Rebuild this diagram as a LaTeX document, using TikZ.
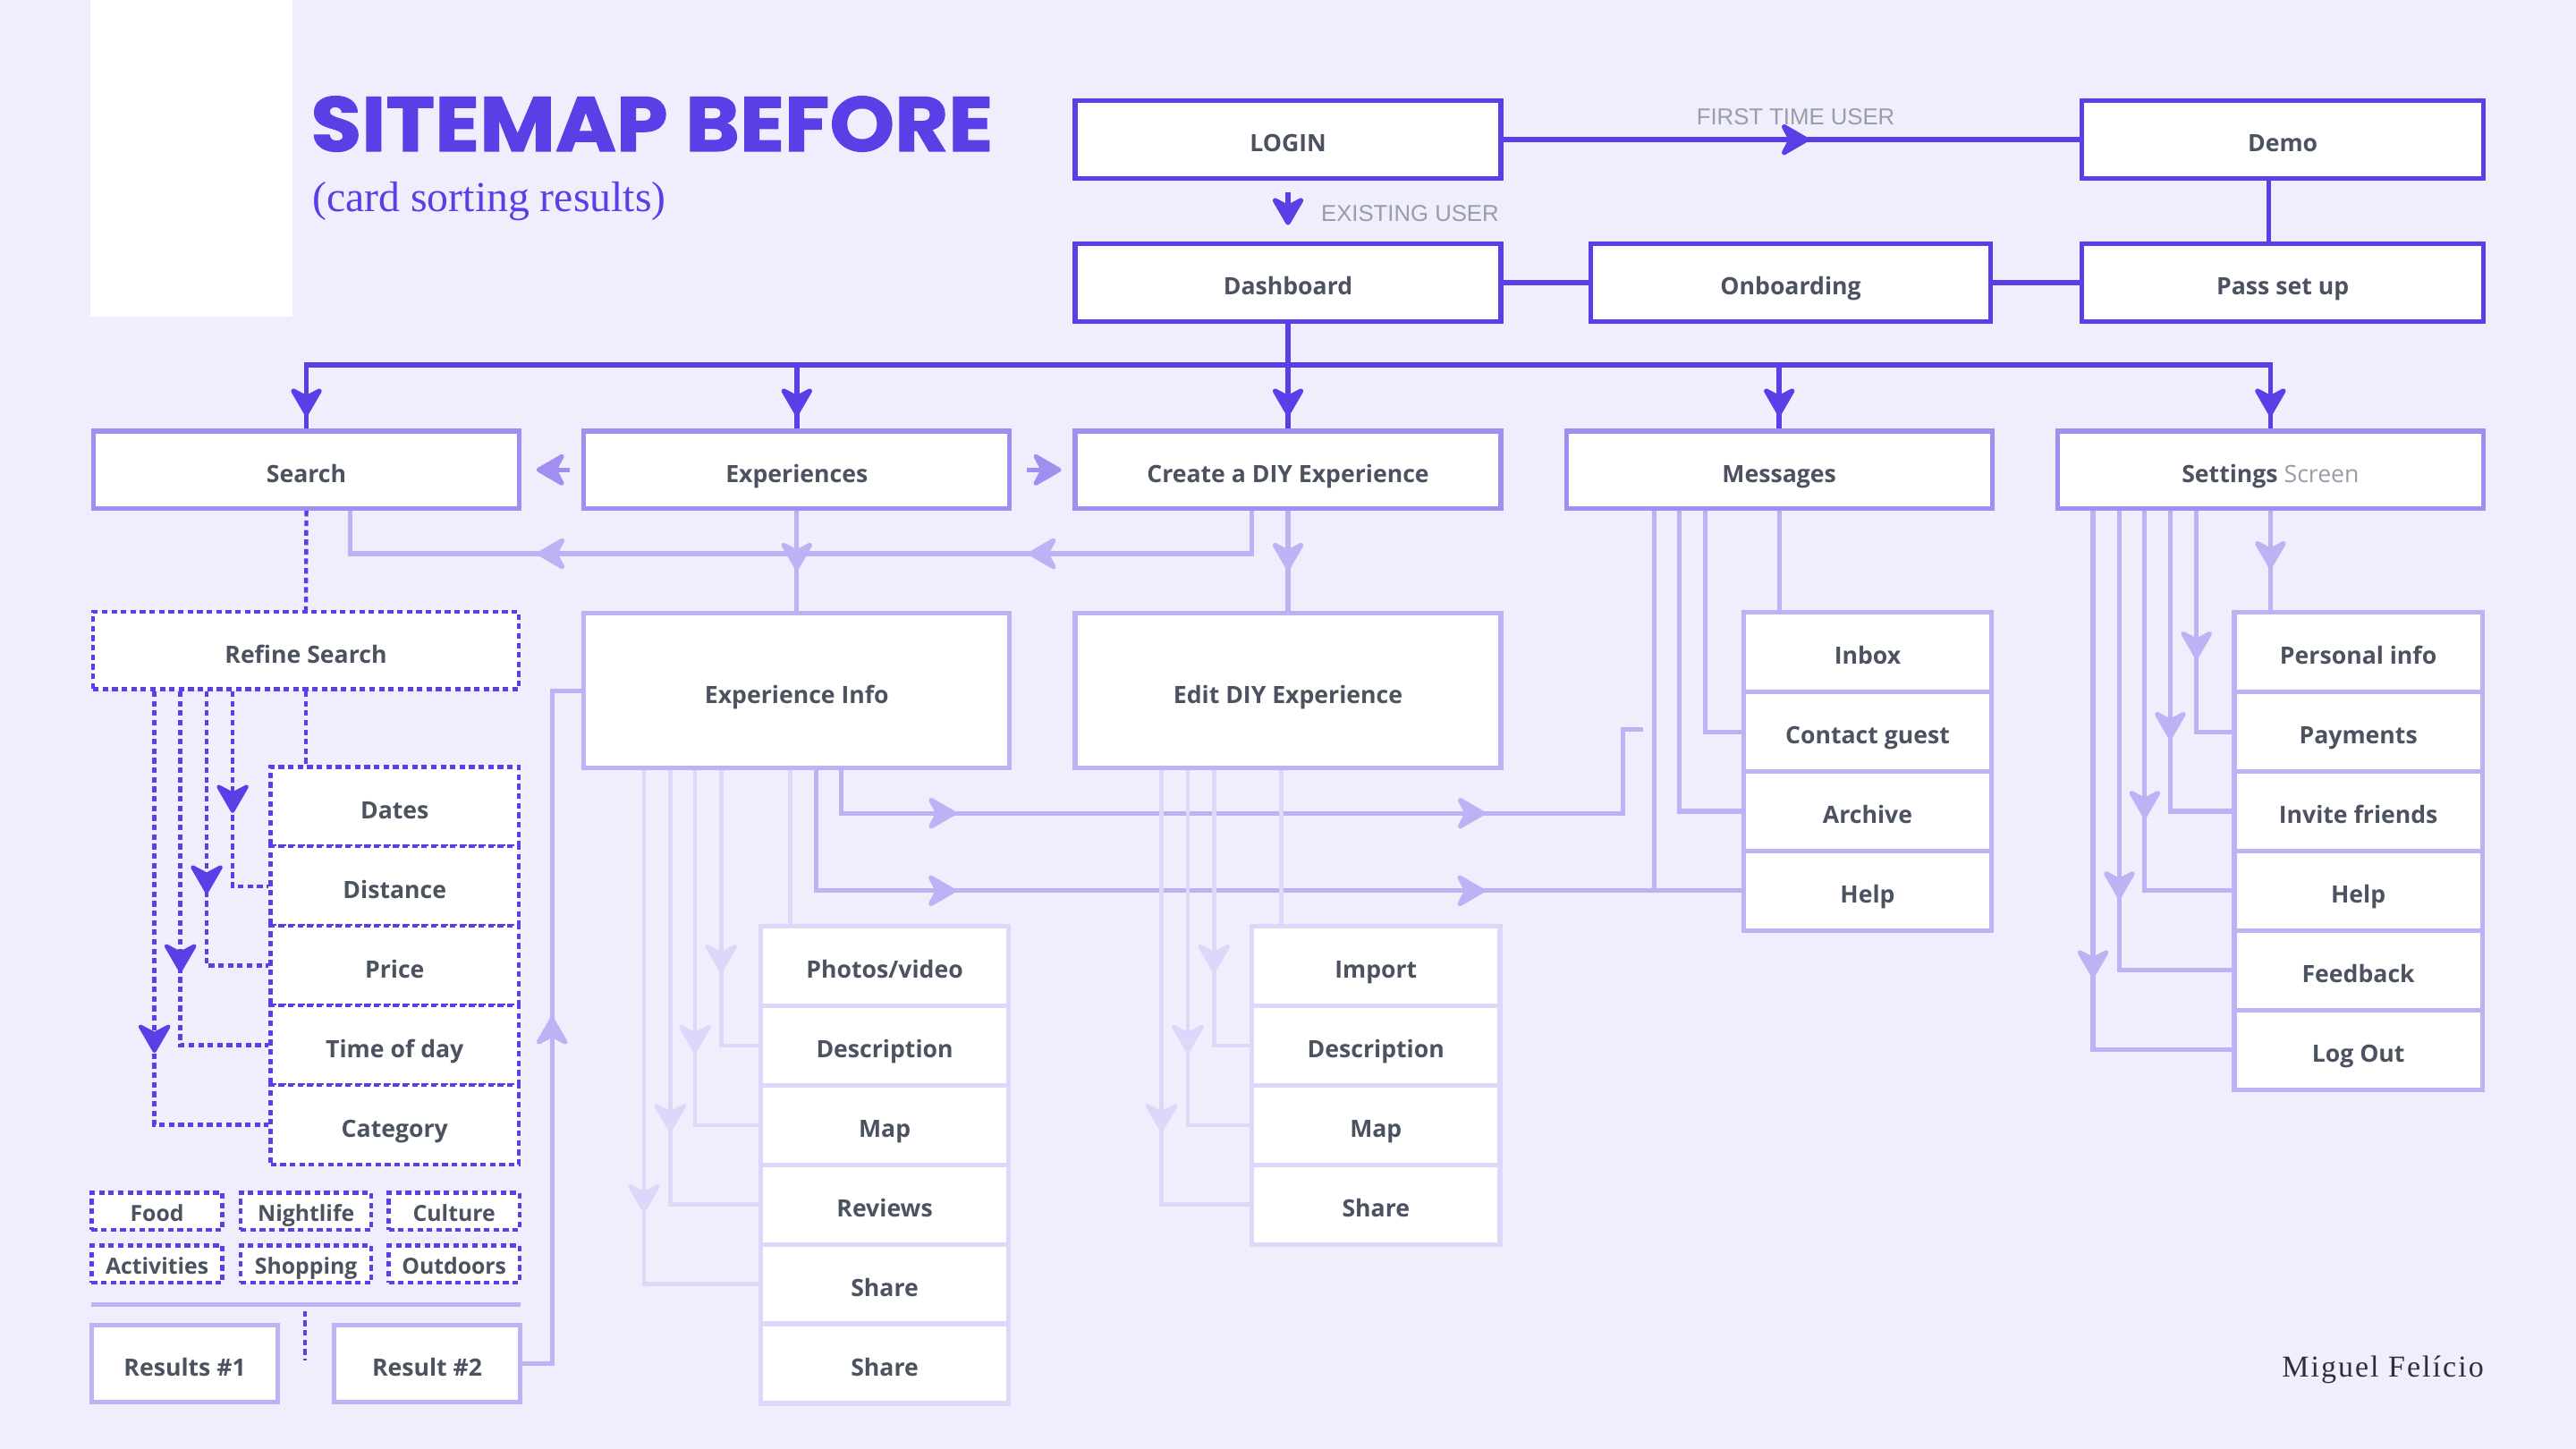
\documentclass[tikz,border=0pt]{standalone}
\usepackage{fontspec}
\setmainfont{Open Sans}
\newfontfamily\titlefont{Poppins}[FakeStretch=1.07, FakeBold=1.3]
\newfontfamily\seriffont{Liberation Serif}
\newfontfamily\signfont{Liberation Serif}[LetterSpace=6]
\newfontfamily\notefont{Liberation Sans}
\usepackage{xcolor}
\usepackage{tikz}
\usetikzlibrary{positioning, arrows.meta, decorations.markings}

\definecolor{bgpage}{RGB}{239,238,252}
\definecolor{ink}{RGB}{92,62,230}
\definecolor{midpurple}{RGB}{161,142,240}
\definecolor{litepurple}{RGB}{190,178,244}
\definecolor{palepurple}{RGB}{221,216,249}
\definecolor{labelgray}{RGB}{75,82,96}
\definecolor{notegray}{RGB}{154,156,168}
\definecolor{signgray}{RGB}{46,47,58}

\tikzset{
    sitehead/.tip={Stealth[length=20pt, width=23pt, inset=6pt, round]},
    box/.style={draw=#1, fill=white, line width=2.8pt, minimum width=259.2pt,
        minimum height=47.2pt, inner sep=0pt, text=labelgray,
        text height=15pt, text depth=0pt,
        font=\fontsize{14.5}{16}\selectfont\bfseries},
    kid/.style={box=#1, minimum width=151pt, minimum height=48.4pt},
    dotbox/.style={box=ink, line width=2.4pt, dash pattern=on 3.4pt off 2.4pt},
    fbox/.style={kid=ink, line width=2.4pt, dash pattern=on 3.4pt off 2.4pt},
    tag/.style={dotbox, minimum width=79.6pt, minimum height=22.6pt,
        text height=12pt, font=\fontsize{13.5}{15}\selectfont\bfseries},
    main/.style={draw=ink, line width=3pt},
    lite/.style={draw=litepurple, line width=2.8pt},
    pale/.style={draw=palepurple, line width=2.4pt},
    dotline/.style={draw=ink, line width=2.4pt, dash pattern=on 3.4pt off 2.4pt},
    sidehead/.style={draw=midpurple, line width=2.6pt, -{sitehead}},
    midarr/.style={postaction={decorate, decoration={markings,
        mark=at position #1 with {\arrow{sitehead}}}}},
}

\begin{document}
\begin{tikzpicture}[x=1pt, y=-1pt, node distance=-2.8pt]
    \useasboundingbox (0,0) rectangle (1568,882);
    \fill[bgpage] (0,0) rectangle (1568,882);
    \fill[white] (55,0) rectangle (178,193);

    % title
    \node[anchor=base west, inner sep=0pt, text=ink,
        font=\titlefont\bfseries\fontsize{47}{50}\selectfont] (title) at (189,92) {SITEMAP BEFORE};
    \node[anchor=base west, inner sep=0pt, text=ink,
        font=\seriffont\fontsize{26}{28}\selectfont] (subtitle) at (190,129) {(card sorting results)};
    \node[anchor=base east, inner sep=0pt, text=signgray,
        font=\signfont\fontsize{18.5}{20}\selectfont] (author) at (1512,838) {Miguel Felício};

    % top row
    \node[box=ink] (login) at (784,85) {LOGIN};
    \node[box=ink, minimum width=244.2pt] (demo) at (1389.5,85) {Demo};
    \node[box=ink] (dash) at (784,172) {Dashboard};
    \node[box=ink, minimum width=243.2pt] (onb) at (1090,172) {Onboarding};
    \node[box=ink, minimum width=244.2pt] (pass) at (1389.5,172) {Pass set up};

    \node[anchor=base, text=notegray, font=\notefont\fontsize{14}{16}\selectfont] (firstnote) at (1093,76) {FIRST TIME USER};
    \node[anchor=base west, inner sep=0pt, text=notegray, font=\notefont\fontsize{14}{16}\selectfont] (existnote) at (804,135) {EXISTING USER};

    % second row
    \node[box=midpurple] (search) at (186.5,286) {Search};
    \node[box=midpurple] (exper) at (485,286) {Experiences};
    \node[box=midpurple] (create) at (784,286) {Create a DIY Experience};
    \node[box=midpurple] (msgs) at (1083,286) {Messages};
    \node[box=midpurple] (sett) at (1382,286) {Settings {\mdseries\color{notegray}Screen}};

    % third row
    \node[dotbox] (refine) at (186.2,396) {Refine Search};
    \node[box=litepurple, minimum height=94.2pt] (expinfo) at (485,420.5) {Experience Info};
    \node[box=litepurple, minimum height=94.2pt] (editdiy) at (784,420.5) {Edit DIY Experience};

    % messages
    \node[kid=litepurple] (inbox) at (1136.8,397) {Inbox};
    \node[kid=litepurple, below=of inbox] (contact) {Contact guest};
    \node[kid=litepurple, below=of contact] (archive) {Archive};
    \node[kid=litepurple, below=of archive] (mhelp) {Help};

    % settings
    \node[kid=litepurple] (pinfo) at (1435.5,397) {Personal info};
    \node[kid=litepurple, below=of pinfo] (payments) {Payments};
    \node[kid=litepurple, below=of payments] (invite) {Invite friends};
    \node[kid=litepurple, below=of invite] (shelp) {Help};
    \node[kid=litepurple, below=of shelp] (feedback) {Feedback};
    \node[kid=litepurple, below=of feedback] (logout) {Log Out};

    % experience info
    \node[kid=palepurple] (photos) at (538.5,588) {Photos/video};
    \node[kid=palepurple, below=of photos] (desc1) {Description};
    \node[kid=palepurple, below=of desc1] (map1) {Map};
    \node[kid=palepurple, below=of map1] (reviews) {Reviews};
    \node[kid=palepurple, below=of reviews] (share1) {Share};
    \node[kid=palepurple, below=of share1] (share2) {Share};

    % edit diy
    \node[kid=palepurple] (imp) at (837.5,588) {Import};
    \node[kid=palepurple, below=of imp] (desc2) {Description};
    \node[kid=palepurple, below=of desc2] (map2) {Map};
    \node[kid=palepurple, below=of map2] (share3) {Share};

    % filters
    \node[fbox] (dates) at (240.25,491) {Dates};
    \node[fbox, below=-2.4pt of dates] (distance) {Distance};
    \node[fbox, below=-2.4pt of distance] (price) {Price};
    \node[fbox, below=-2.4pt of price] (timeofday) {Time of day};
    \node[fbox, below=-2.4pt of timeofday] (category) {Category};

    \node[tag] (food) at (95.6,737.3) {Food};
    \node[tag] (nightlife) at (186.3,737.3) {Nightlife};
    \node[tag] (culture) at (276.4,737.3) {Culture};
    \node[tag] (activities) at (95.6,769.5) {Activities};
    \node[tag] (shopping) at (186.3,769.5) {Shopping};
    \node[tag] (outdoors) at (276.4,769.5) {Outdoors};

    \node[box=litepurple, minimum width=113.2pt] (res1) at (112.5,830) {Results \#1};
    \node[box=litepurple, minimum width=113.2pt] (res2) at (260,830) {Result \#2};

    \coordinate (sepL) at (55.6,794);
    \coordinate (sepR) at (317,794);
    \coordinate (gapT) at (185.6,798);
    \coordinate (gapB) at (185.6,828);
    \draw[lite] (sepL) -- (sepR);
    \draw[dotline] (gapT) -- (gapB);

    % top connectors
    \draw[main, midarr=186pt] (login.east) -- (demo.west);
    \draw[main, -{sitehead}, shorten <=7pt, shorten >=10pt] (login.south) -- (dash.north);
    \draw[main] ([xshift=-8.5pt]demo.south) -- ([xshift=-8.5pt]pass.north);
    \draw[main] (dash.east) -- (onb.west);
    \draw[main] (onb.east) -- (pass.west);

    \coordinate (bus) at (0,222);
    \draw[main] (dash.south) -- (dash.south |- bus);
    \draw[main, line cap=rect] (search.north |- bus) -- (sett.north |- bus);
    \draw[main, midarr=31pt] (search.north |- bus) -- (search.north);
    \draw[main, midarr=31pt] (exper.north |- bus) -- (exper.north);
    \draw[main, midarr=31pt] (create.north |- bus) -- (create.north);
    \draw[main, midarr=31pt] (msgs.north |- bus) -- (msgs.north);
    \draw[main, midarr=31pt] (sett.north |- bus) -- (sett.north);

    \draw[sidehead, shorten <=7pt, shorten >=9pt] (exper.west) -- (search.east);
    \draw[sidehead, shorten <=9pt, shorten >=7pt] (exper.east) -- (create.west);

    % light connectors
    \coordinate (litebus) at (0,337);
    \draw[lite, midarr=162pt, midarr=461pt] ([xshift=-22pt]create.south) |- ([xshift=26.5pt]search.south |- litebus) -- ([xshift=26.5pt]search.south);
    \draw[lite, midarr=36pt] (exper.south) -- (expinfo.north);
    \draw[lite, midarr=36pt] (create.south) -- (editdiy.north);
    \draw[lite, midarr=229pt] (res2.east) -| ([xshift=-18pt]expinfo.west) -- (expinfo.west);

    \coordinate (bendA) at (988,495);
    \coordinate (stub) at (1000,444);
    \draw[lite, midarr=96pt, midarr=418pt] ([xshift=27pt]expinfo.south) |- (bendA) |- (stub);
    \draw[lite, midarr=158pt, midarr=480pt] ([xshift=12pt]expinfo.south) |- (mhelp.west);

    % messages
    \draw[lite] (msgs.south) -- (msgs.south |- inbox.north);
    \draw[lite] ([xshift=-45pt]msgs.south) |- (contact.west);
    \draw[lite] ([xshift=-61pt]msgs.south) |- (archive.west);
    \draw[lite] ([xshift=-76pt]msgs.south) |- (mhelp.west);

    % settings
    \draw[lite, midarr=35pt] (sett.south) -- (sett.south |- pinfo.north);
    \draw[lite, midarr=90pt] ([xshift=-45pt]sett.south) |- (payments.west);
    \draw[lite, midarr=139pt] ([xshift=-61pt]sett.south) |- (invite.west);
    \draw[lite, midarr=187pt] ([xshift=-76.5pt]sett.south) |- (shelp.west);
    \draw[lite, midarr=236pt] ([xshift=-92pt]sett.south) |- (feedback.west);
    \draw[lite, midarr=284pt] ([xshift=-108pt]sett.south) |- (logout.west);

    % experience info
    \draw[pale] ([xshift=-4pt]expinfo.south) -- ([xshift=-4pt]expinfo.south |- photos.north);
    \draw[pale, midarr=123pt] ([xshift=-46pt]expinfo.south) |- (desc1.west);
    \draw[pale, midarr=172pt] ([xshift=-62pt]expinfo.south) |- (map1.west);
    \draw[pale, midarr=220pt] ([xshift=-77pt]expinfo.south) |- (reviews.west);
    \draw[pale, midarr=269pt] ([xshift=-93pt]expinfo.south) |- (share1.west);

    % edit diy
    \draw[pale] ([xshift=-4pt]editdiy.south) -- ([xshift=-4pt]editdiy.south |- imp.north);
    \draw[pale, midarr=123pt] ([xshift=-45pt]editdiy.south) |- (desc2.west);
    \draw[pale, midarr=172pt] ([xshift=-61pt]editdiy.south) |- (map2.west);
    \draw[pale, midarr=220pt] ([xshift=-77pt]editdiy.south) |- (share3.west);

    % refine search
    \draw[dotline] (search.south) -- (refine.north);
    \draw[dotline] (refine.south) -- (refine.south |- dates.north);
    \draw[dotline, midarr=74pt] ([xshift=-44.6pt]refine.south) |- (distance.west);
    \draw[dotline, midarr=123pt] ([xshift=-60.4pt]refine.south) |- (price.west);
    \draw[dotline, midarr=171pt] ([xshift=-76.4pt]refine.south) |- (timeofday.west);
    \draw[dotline, midarr=220pt] ([xshift=-92.2pt]refine.south) |- (category.west);
\end{tikzpicture}
\end{document}
